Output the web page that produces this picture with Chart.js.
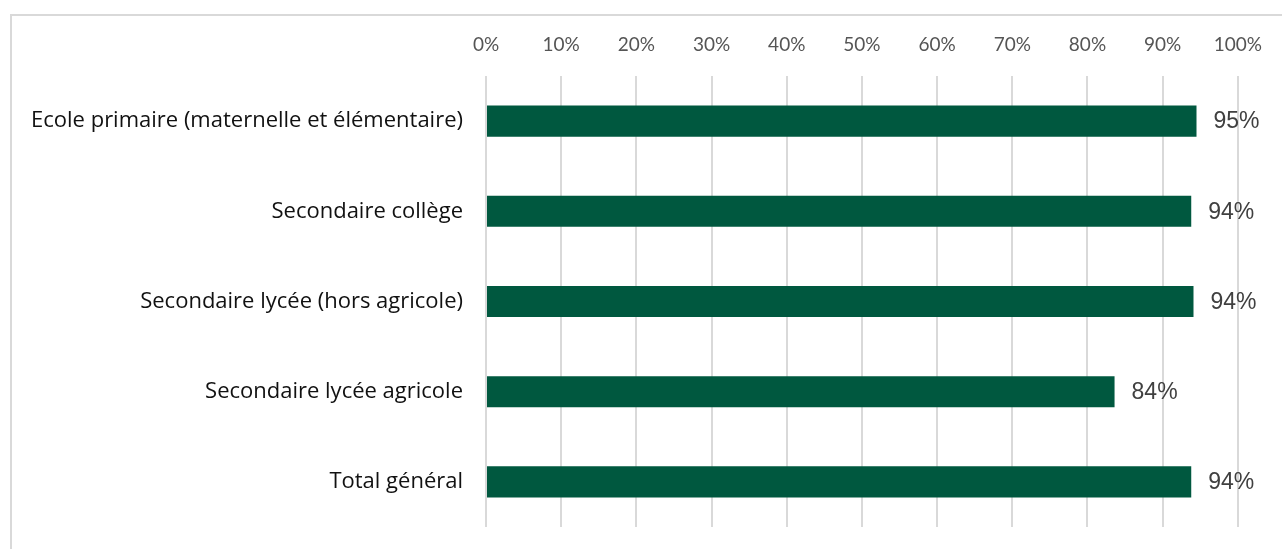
<!DOCTYPE html>
<html><head><meta charset="utf-8">
<script src="https://cdn.jsdelivr.net/npm/chart.js@4.4.0/dist/chart.umd.min.js"></script>
<style>
html,body{margin:0;padding:0;background:#fff;width:1282px;height:549px;overflow:hidden;}
#frame{position:absolute;left:10px;top:14px;width:1300px;height:600px;border-left:2px solid #d9d9d9;border-top:2px solid #d9d9d9;box-sizing:border-box;}
#wrap{position:absolute;left:0;top:0;width:1282px;height:549px;}
</style></head>
<body>
<div id="frame"></div>
<div id="wrap"><canvas id="c" width="1282" height="549"></canvas></div>
<script>
const categories = ["Ecole primaire (maternelle et élémentaire)","Secondaire collège","Secondaire lycée (hors agricole)","Secondaire lycée agricole","Total général"];
const values = [94.5, 93.8, 94.1, 83.6, 93.8];
const valueLabels = ["95%","94%","94%","84%","94%"];
const tickValues = [0,10,20,30,40,50,60,70,80,90,100];

const labelPlugin = {
  id:'barLabels',
  afterDatasetsDraw(chart){
    const ctx = chart.ctx;
    const meta = chart.getDatasetMeta(0);
    ctx.save();
    ctx.font = '23px "Liberation Sans", Arial, sans-serif';
    ctx.fillStyle = '#404040';
    ctx.textAlign = 'left';
    ctx.textBaseline = 'middle';
    meta.data.forEach((el,i)=>{
      ctx.fillText(valueLabels[i], el.x + 17, el.y + 1);
    });
    ctx.restore();
  }
};

new Chart(document.getElementById('c'), {
  type:'bar',
  data:{labels:categories, datasets:[{data:values, backgroundColor:'#00583F', borderWidth:0, barPercentage:0.69, categoryPercentage:0.5}]},
  options:{
    indexAxis:'y', responsive:false, animation:false,
    layout:{padding:{top:0,right:44,bottom:22,left:0}},
    plugins:{legend:{display:false}, tooltip:{enabled:false}},
    scales:{
      x:{position:'top', min:0, max:100,
        afterBuildTicks(s){ s.ticks = tickValues.map(v=>({value:v})); },
        afterFit(s){ s.height = 76; },
        grid:{color:'#d9d9d9', lineWidth:2, drawTicks:false},
        border:{display:false},
        ticks:{padding:20, color:'#555555', font:{family:'Lato, "Open Sans", sans-serif', size:19}, callback:v=>v+'%'}
      },
      y:{
        afterFit(s){ s.width = 486; s.paddingTop = 0; s.paddingBottom = 0; },
        grid:{display:false, drawTicks:false},
        border:{display:false},
        ticks:{padding:23, color:'#111111', font:{family:'"Open Sans", sans-serif', size:22}}
      }
    }
  },
  plugins:[labelPlugin]
});
</script>
</body></html>
